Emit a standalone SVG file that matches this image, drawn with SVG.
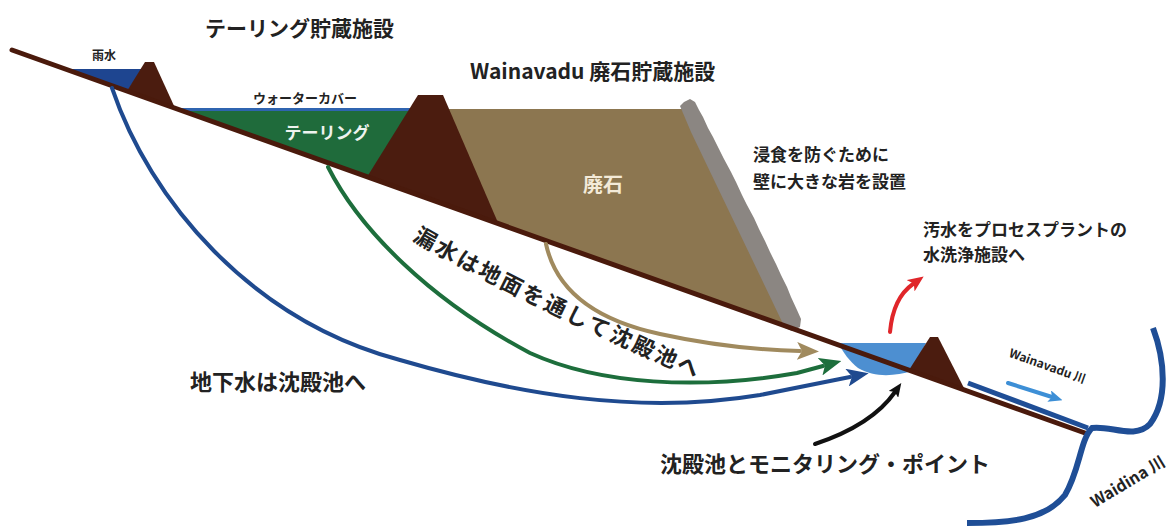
<svg xmlns="http://www.w3.org/2000/svg" width="1168" height="528" viewBox="0 0 1168 528">
  <style>
    .jp { font-family: "Noto Sans CJK JP", "Noto Sans", sans-serif; font-weight: bold; fill: #222; }
    .dam { fill: #4b1c0f; }
    .flow { fill: none; stroke-width: 4; stroke-linecap: round; }
  </style>
  <defs>
    <marker id="ahBlue" markerUnits="userSpaceOnUse" viewBox="0 0 22 18" refX="3" refY="9" markerWidth="22" markerHeight="18" orient="auto">
      <path d="M0,0 L22,9 L0,18 L5,9 Z" fill="#1f4a8f"/>
    </marker>
    <marker id="ahGreen" markerUnits="userSpaceOnUse" viewBox="0 0 22 18" refX="3" refY="9" markerWidth="22" markerHeight="18" orient="auto">
      <path d="M0,0 L22,9 L0,18 L5,9 Z" fill="#1d6e3c"/>
    </marker>
    <marker id="ahTan" markerUnits="userSpaceOnUse" viewBox="0 0 22 18" refX="3" refY="9" markerWidth="22" markerHeight="18" orient="auto">
      <path d="M0,0 L22,9 L0,18 L5,9 Z" fill="#a08a5e"/>
    </marker>
    <marker id="ahRed" markerUnits="userSpaceOnUse" viewBox="0 0 16 14" refX="3" refY="7" markerWidth="16" markerHeight="14" orient="auto">
      <path d="M0,0 L16,7 L0,14 L4,7 Z" fill="#e0262a"/>
    </marker>
    <marker id="ahBlack" markerUnits="userSpaceOnUse" viewBox="0 0 14 12" refX="3" refY="6" markerWidth="14" markerHeight="12" orient="auto">
      <path d="M0,0 L14,6 L0,12 L3,6 Z" fill="#111"/>
    </marker>
    <marker id="ahLight" markerUnits="userSpaceOnUse" viewBox="0 0 14 12" refX="3" refY="6" markerWidth="14" markerHeight="12" orient="auto">
      <path d="M0,0 L14,6 L0,12 L3,6 Z" fill="#3d8fd6"/>
    </marker>
    <path id="seepPath" d="M 412,240 Q 540,313 702,381"/>
  </defs>

  <!-- rainwater pond and its dam -->
  <g id="rain-pond">
    <polygon points="65,69 142,69 127,92 62,68" fill="#1e4590"/>
    <polygon class="dam" points="145,62 154,62 175,108 127,91"/>
    <text class="jp" x="104" y="60" font-size="12" text-anchor="middle">雨水</text>
  </g>

  <!-- tailings storage with water cover -->
  <g id="tailings">
    <polygon points="182,111 418,111 370,178" fill="#1f6b3b"/>
    <line x1="178" y1="109.5" x2="416" y2="109.5" stroke="#2f64b0" stroke-width="3"/>
    <text class="jp" x="305" y="103" font-size="13" text-anchor="middle" fill="#333">ウォーターカバー</text>
    <text class="jp" x="327" y="139" font-size="17" text-anchor="middle" style="fill:#eef3ee">テーリング</text>
  </g>

  <!-- waste rock storage with rock armour -->
  <g id="waste-rock">
    <polygon points="445,109 687,109 792,330 498,225" fill="#8c7650"/>
    <polygon fill="#8b8682" points="680,106 684,102 690,99 695,102 699,110 703,117 708,128 713,137 719,149 724,159 731,172 736,182 742,195 747,205 754,218 759,229 765,241 770,252 776,264 781,275 787,287 791,297 797,310 801,319 800,327 792,331 785,328 774,305 763,282 751,257 739,232 727,207 715,182 703,157 691,132"/>
    <text class="jp" x="603" y="192" font-size="20" text-anchor="middle" style="fill:#f3ead8">廃石</text>
  </g>

  <!-- dam between tailings and waste rock -->
  <g id="tailings-dam">
    <polygon class="dam" points="418,95 443,95 499,225 367,177"/>
  </g>

  <!-- settling pond and its dam -->
  <g id="settling-pond">
    <path d="M 838,343 L 926,343 L 912,371 C 895,376 875,378 858,368 C 850,362 843,352 838,343 Z" fill="#4d8fd1"/>
    <polygon class="dam" points="930,337 938,337 965,390 909,370"/>
  </g>

  <!-- ground surface -->
  <g id="ground">
    <line x1="12" y1="50" x2="1085" y2="433" stroke="#4a1a0c" stroke-width="5" stroke-linecap="round"/>
  </g>

  <!-- rivers -->
  <g id="rivers">
    <path d="M 968,383 L 1088,428" fill="none" stroke="#1f4e96" stroke-width="5"/>
    <path d="M 1153,328 C 1165,360 1168,400 1150,424 C 1135,440 1110,425 1092,428 C 1080,440 1080,470 1065,495 C 1045,520 1010,523 967,523" fill="none" stroke="#1f4e96" stroke-width="6"/>
    <text class="jp" font-size="12" transform="translate(1046,370) rotate(19.6)" text-anchor="middle" fill="#333">Wainavadu 川</text>
    <text class="jp" font-size="16" transform="translate(1095,508) rotate(-31)" fill="#333">Waidina 川</text>
  </g>

  <!-- flow connectors -->
  <g id="connectors">
    <path class="flow" stroke="#1f4a8f" d="M 112,88 C 150,200 250,320 400,360 C 520,395 640,415 760,395 L 850,377" marker-end="url(#ahBlue)"/>
    <path class="flow" stroke="#1d6e3c" d="M 328,167 C 360,230 430,300 530,353 C 600,385 700,390 797,373 L 823,366" marker-end="url(#ahGreen)"/>
    <path class="flow" stroke="#a08a5e" d="M 546,244 C 556,290 595,320 660,334 C 710,345 760,350 800,351" marker-end="url(#ahTan)"/>
    <path class="flow" stroke="#e0262a" stroke-width="3" d="M 890,332 Q 893,298 913,284" marker-end="url(#ahRed)"/>
    <path class="flow" stroke="#111" stroke-width="2.5" d="M 815,444 Q 872,425 895,392" marker-end="url(#ahBlack)"/>
    <path class="flow" stroke="#3d8fd6" d="M 1008,383 L 1052,397" marker-end="url(#ahLight)"/>
  </g>

  <!-- labels -->
  <g id="labels">
    <text class="jp" x="205" y="36" font-size="21">テーリング貯蔵施設</text>
    <text class="jp" x="470" y="79" font-size="21">Wainavadu 廃石貯蔵施設</text>
    <text class="jp" x="753" y="161" font-size="17">浸食を防ぐために</text>
    <text class="jp" x="753" y="188" font-size="17">壁に大きな岩を設置</text>
    <text class="jp" x="923" y="236" font-size="17">汚水をプロセスプラントの</text>
    <text class="jp" x="923" y="261" font-size="17">水洗浄施設へ</text>
    <text class="jp" x="190" y="390" font-size="22">地下水は沈殿池へ</text>
    <text class="jp" x="660" y="472" font-size="22">沈殿池とモニタリング・ポイント</text>
    <text class="jp" font-size="22" letter-spacing="2.5"><textPath href="#seepPath">漏水は地面を通して沈殿池へ</textPath></text>
  </g>
</svg>
